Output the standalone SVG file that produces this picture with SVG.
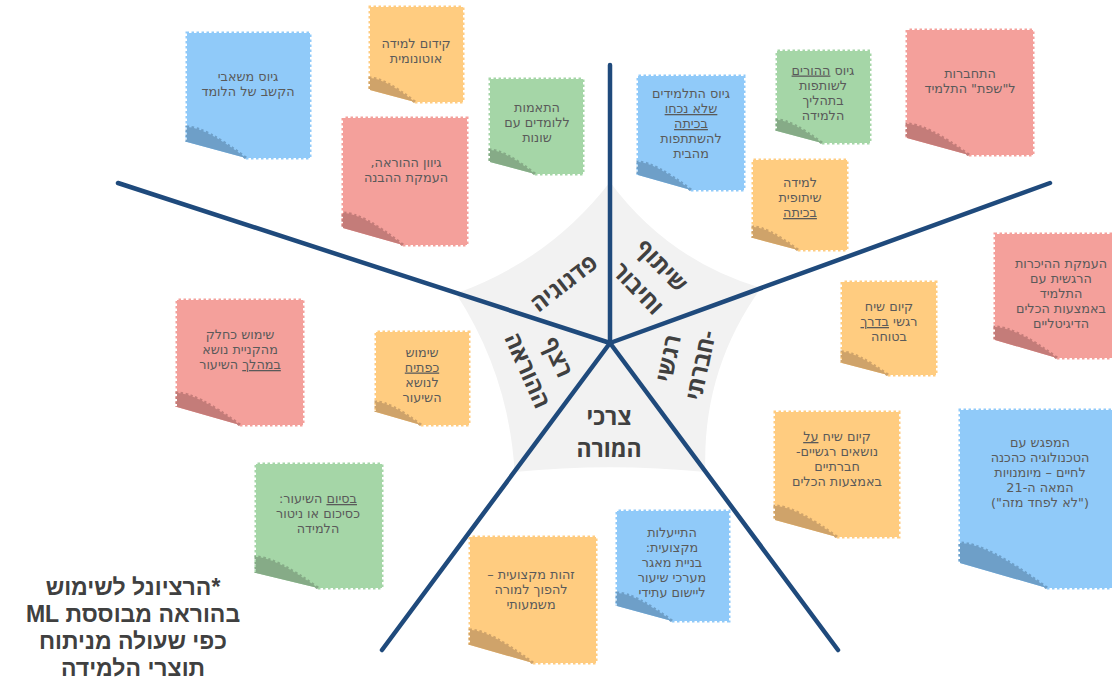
<svg xmlns="http://www.w3.org/2000/svg" width="1112" height="686" viewBox="0 0 1112 686">
<style>
.note text{font-family:"DejaVu Sans","Open Sans",sans-serif;font-size:12.8px;fill:#5a5a5a;text-anchor:middle;direction:rtl}
.u{text-decoration:underline}
.b,.f{stroke-width:3;stroke-dasharray:2.5 2.5}
.blue .b{fill:#90caf9;stroke:#90caf9}.blue .f{fill:#6e9fc8;stroke:#6e9fc8}
.orange .b{fill:#ffcc80;stroke:#ffcc80}.orange .f{fill:#cfa36a;stroke:#cfa36a}
.red .b{fill:#f4a09b;stroke:#f4a09b}.red .f{fill:#c47c79;stroke:#c47c79}
.green .b{fill:#a5d6a7;stroke:#a5d6a7}.green .f{fill:#86ab87;stroke:#86ab87}
.conn line{stroke:#1f4a7c;stroke-width:4.5;stroke-linecap:round}
.lab{font-family:"Open Sans","DejaVu Sans",sans-serif;font-weight:700;font-size:23px;fill:#404040;text-anchor:middle;direction:rtl}
.cap{font-family:"Liberation Sans","DejaVu Sans",sans-serif;font-weight:700;font-size:23px;fill:#404040;text-anchor:middle;direction:rtl}
</style>
<rect width="1112" height="686" fill="#ffffff"/>
<g id="hub">
<path d="M610,182 Q667.9,260.3 761,288 Q701.7,370.5 705.4,472 Q610,462.6 514.6,472 Q509,375.2 456,293.6 Q549.7,260 610,182 Z" fill="#f2f2f2"/>
</g>
<g id="connectors" class="conn">
<line x1="610" y1="343" x2="610" y2="65"/>
<line x1="610" y1="343" x2="1050" y2="183"/>
<line x1="610" y1="343" x2="838" y2="650"/>
<line x1="610" y1="343" x2="382" y2="650"/>
<line x1="610" y1="343" x2="118" y2="183"/>
</g>
<g id="sector-pedagogy"><text class="lab" transform="translate(564,283) rotate(-38)" y="8">פדגוגיה</text></g>
<g id="sector-sharing"><text class="lab" transform="translate(649.5,277.5) rotate(46)"><tspan x="0" y="-9">שיתוף</tspan><tspan x="0" y="24">וחיבור</tspan></text></g>
<g id="sector-emotional"><text class="lab" transform="translate(685,362) rotate(-78)"><tspan x="0" y="-9">רגשי</tspan><tspan x="0" y="24">-חברתי</tspan></text></g>
<g id="sector-continuity"><text class="lab" transform="translate(542,364) rotate(66)"><tspan x="0" y="-9">רצף</tspan><tspan x="0" y="24">ההוראה</tspan></text></g>
<g id="sector-teacher"><text class="lab"><tspan x="609" y="425">צרכי</tspan><tspan x="609" y="457">המורה</tspan></text></g>

<g id="note1" class="note blue"><g transform="translate(187,33)"><path class="b" d="M59,125 H123 V0 H0 V109"/><path class="f" d="M59,125 Q18,94 0,94 V109"/></g>
<text><tspan x="248" y="81">גיוס משאבי</tspan><tspan x="248" y="96">הקשב של הלומד</tspan></text></g>

<g id="note2" class="note orange"><g transform="translate(370,7)"><path class="b" d="M45,95 H93 V0 H0 V83"/><path class="f" d="M45,95 Q14,71 0,71 V83"/></g>
<text><tspan x="416" y="47.5">קידום למידה</tspan><tspan x="416" y="62.5">אוטונומית</tspan></text></g>

<g id="note3" class="note red"><g transform="translate(343,118)"><path class="b" d="M60,127 H124 V0 H0 V110"/><path class="f" d="M60,127 Q19,95 0,95 V110"/></g>
<text><tspan x="406" y="166.5">גיוון ההוראה,</tspan><tspan x="406" y="181.5">העמקת ההבנה</tspan></text></g>

<g id="note4" class="note green"><g transform="translate(490,79)"><path class="b" d="M45,95 H93 V0 H0 V83"/><path class="f" d="M45,95 Q14,71 0,71 V83"/></g>
<text><tspan x="537" y="112">התאמות</tspan><tspan x="537" y="127">ללומדים עם</tspan><tspan x="537" y="142">שונות</tspan></text></g>

<g id="note5" class="note blue"><g transform="translate(638,76)"><path class="b" d="M53,114 H106 V0 H0 V99"/><path class="f" d="M53,114 Q16,86 0,86 V99"/></g>
<text><tspan x="691" y="98">גיוס התלמידים</tspan><tspan x="691" y="113" class="u">שלא נכחו</tspan><tspan x="691" y="128" class="u">בכיתה</tspan><tspan x="691" y="143">להשתתפות</tspan><tspan x="691" y="158">מהבית</tspan></text></g>

<g id="note6" class="note green"><g transform="translate(777,51)"><path class="b" d="M45,92 H93 V0 H0 V80"/><path class="f" d="M45,92 Q14,69 0,69 V80"/></g>
<text><tspan x="823" y="74.5">גיוס </tspan><tspan class="u">ההורים</tspan><tspan x="823" y="89.5">לשותפות</tspan><tspan x="823" y="104.5">בתהליך</tspan><tspan x="823" y="119.5">הלמידה</tspan></text></g>

<g id="note7" class="note red"><g transform="translate(907,30)"><path class="b" d="M62,125 H126 V0 H0 V108"/><path class="f" d="M62,125 Q19,94 0,94 V108"/></g>
<text><tspan x="970" y="78">התחברות</tspan><tspan x="970" y="93">ל"שפת" התלמיד</tspan></text></g>

<g id="note8" class="note orange"><g transform="translate(753,160)"><path class="b" d="M45,90 H94 V0 H0 V78"/><path class="f" d="M45,90 Q14,67 0,67 V78"/></g>
<text><tspan x="800" y="187">למידה</tspan><tspan x="800" y="202">שיתופית</tspan><tspan x="800" y="217" class="u">בכיתה</tspan></text></g>

<g id="note9" class="note red"><g transform="translate(995,234)"><path class="b" d="M62,124 H130 V0 H0 V106"/><path class="f" d="M62,124 Q20,93 0,93 V106"/></g>
<text><tspan x="1061" y="267.5">העמקת ההיכרות</tspan><tspan x="1061" y="282.5">הרגשית עם</tspan><tspan x="1061" y="297.5">התלמיד</tspan><tspan x="1061" y="312.5">באמצעות הכלים</tspan><tspan x="1061" y="327.5">הדיגיטליים</tspan></text></g>

<g id="note10" class="note orange"><g transform="translate(842,282)"><path class="b" d="M46,93 H94 V0 H0 V81"/><path class="f" d="M46,93 Q14,70 0,70 V81"/></g>
<text><tspan x="889" y="311">קיום שיח</tspan><tspan x="889" y="326">רגשי </tspan><tspan class="u">בדרך</tspan><tspan x="889" y="341">בטוחה</tspan></text></g>

<g id="note11" class="note blue"><g transform="translate(960,410)"><path class="b" d="M87,178 H175 V0 H0 V153"/><path class="f" d="M87,178 Q26,133 0,133 V153"/></g>
<text><tspan x="1040" y="446.5">המפגש עם</tspan><tspan x="1040" y="461.5">הטכנולוגיה כהכנה</tspan><tspan x="1040" y="476.5">לחיים – מיומנויות</tspan><tspan x="1040" y="491.5">המאה ה-21</tspan><tspan x="1040" y="506.5">("לא לפחד מזה")</tspan></text></g>

<g id="note12" class="note orange"><g transform="translate(775,412)"><path class="b" d="M62,125 H124 V0 H0 V108"/><path class="f" d="M62,125 Q19,94 0,94 V108"/></g>
<text><tspan x="837" y="441">קיום שיח </tspan><tspan class="u">על</tspan><tspan x="837" y="456">נושאים רגשיים-</tspan><tspan x="837" y="471">חברתיים</tspan><tspan x="837" y="486">באמצעות הכלים</tspan></text></g>

<g id="note13" class="note red"><g transform="translate(177,300)"><path class="b" d="M63,125 H126 V0 H0 V107"/><path class="f" d="M63,125 Q19,93 0,93 V107"/></g>
<text><tspan x="240" y="339">שימוש כחלק</tspan><tspan x="240" y="354">מהקניית נושא</tspan><tspan x="240" y="369" class="u">במהלך</tspan><tspan> השיעור</tspan></text></g>

<g id="note14" class="note orange"><g transform="translate(376,332)"><path class="b" d="M45,93 H93 V0 H0 V80"/><path class="f" d="M45,93 Q14,70 0,70 V80"/></g>
<text><tspan x="422" y="356.5">שימוש</tspan><tspan x="422" y="371.5" class="u">כפתיח</tspan><tspan x="422" y="386.5">לנושא</tspan><tspan x="422" y="401.5">השיעור</tspan></text></g>

<g id="note15" class="note green"><g transform="translate(256,464)"><path class="b" d="M62,124 H126 V0 H0 V109"/><path class="f" d="M62,124 Q19,93 0,93 V109"/></g>
<text><tspan x="318" y="503" class="u">בסיום</tspan><tspan> השיעור:</tspan><tspan x="318" y="518">כסיכום או ניטור</tspan><tspan x="318" y="533">הלמידה</tspan></text></g>

<g id="note16" class="note orange"><g transform="translate(470,537)"><path class="b" d="M63,126 H126 V0 H0 V108"/><path class="f" d="M63,126 Q19,93 0,93 V108"/></g>
<text><tspan x="531" y="579">זהות מקצועית –</tspan><tspan x="531" y="594">להפוך למורה</tspan><tspan x="531" y="609">משמעותי</tspan></text></g>

<g id="note17" class="note blue"><g transform="translate(617,511)"><path class="b" d="M55,110 H112 V0 H0 V95"/><path class="f" d="M55,110 Q17,82 0,82 V95"/></g>
<text><tspan x="672" y="536.5">התייעלות</tspan><tspan x="672" y="551.5">מקצועית:</tspan><tspan x="672" y="566.5">בניית מאגר</tspan><tspan x="672" y="581.5">מערכי שיעור</tspan><tspan x="672" y="596.5">ליישום עתידי</tspan></text></g>

<g id="caption">
<text class="cap"><tspan x="133" y="595">*הרציונל לשימוש</tspan><tspan x="133" y="622">בהוראה מבוססת ML</tspan><tspan x="133" y="649">כפי שעולה מניתוח</tspan><tspan x="133" y="676">תוצרי הלמידה</tspan></text>
</g>
</svg>
